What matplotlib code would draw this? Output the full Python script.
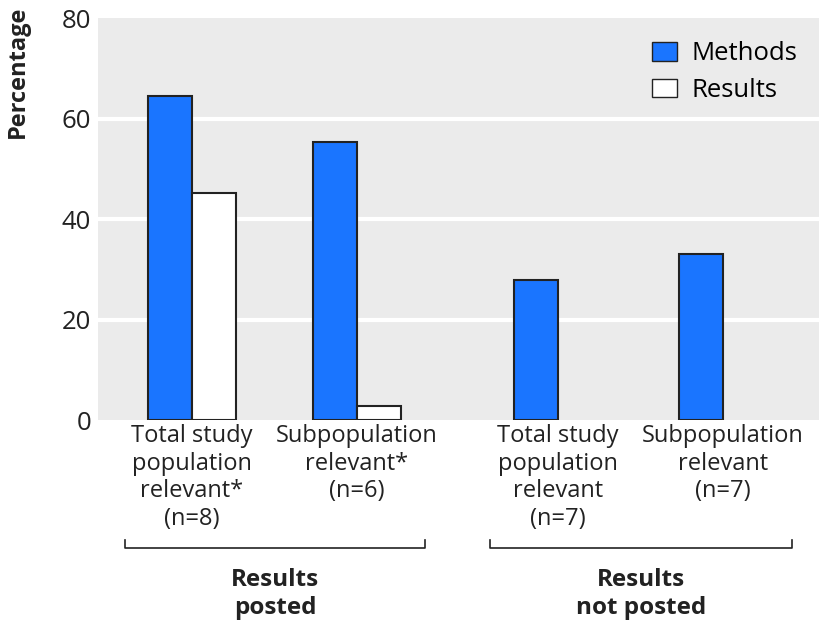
import numpy as np
import matplotlib.pyplot as plt
from matplotlib.patches import Patch

plt.rcParams['font.family'] = ['Open Sans', 'DejaVu Sans']

categories = ['Total study\npopulation\nrelevant*\n(n=8)', 'Subpopulation\nrelevant*\n(n=6)',
              'Total study\npopulation\nrelevant\n(n=7)', 'Subpopulation\nrelevant\n(n=7)']
methods = [64.5, 55.4, 27.9, 33.0]
results = [45.3, 2.8, 0, 0]
groups = ['Results\nposted', 'Results\nnot posted']

x = np.array([0, 1, 2.22, 3.22])
w = 0.267

fig = plt.figure(figsize=(8.2, 6.28), dpi=100)
ax = fig.add_axes([0.1195, 0.331, 0.8805, 0.64])
ax.set_facecolor('#ebebeb')
for y in [20, 40, 60]:
    ax.axhline(y, color='white', lw=3, zorder=0)

ax.bar(x - w/2, methods, w, color='#1a75ff', edgecolor='#222222', lw=1.5, zorder=2)
ax.bar(x[:2] + w/2, results[:2], w, color='white', edgecolor='#222222', lw=1.5, zorder=2)

ax.set_ylim(0, 80)
ax.set_xlim(-0.57, 3.81)
ax.set_yticks([0, 20, 40, 60, 80])
ax.tick_params(axis='y', length=0, labelsize=18.5, pad=5, labelcolor='#222222')
ax.set_xticks(x)
ax.set_xticklabels(categories, fontsize=17, linespacing=1.2, color='#222222')
ax.tick_params(axis='x', length=0, pad=3)
for s in ax.spines.values():
    s.set_visible(False)

fig.text(18/820, 1 - 72/628, 'Percentage', rotation=90, ha='center', va='center',
         fontsize=17, fontweight='bold', color='#222222')

# brackets under the two pairs
for (x0, x1), lab in zip([(125, 425), (490, 792)], groups):
    yb = 1 - 548/628
    yt = 1 - 540/628
    fig.add_artist(plt.Line2D([x0/820, x0/820, x1/820, x1/820], [yt, yb, yb, yt],
                              color='#222222', lw=1.2))
    fig.text((x0 + x1)/2/820, 1 - 594/628, lab, ha='center', va='center',
             fontsize=17.5, fontweight='bold', linespacing=1.2, color='#222222')

handles = [Patch(facecolor='#1a75ff', edgecolor='#222222', label='Methods'),
           Patch(facecolor='white', edgecolor='#222222', label='Results')]
ax.legend(handles=handles, loc='upper right', frameon=False, fontsize=18.5,
          handlelength=0.95, handleheight=0.75, handletextpad=0.55,
          bbox_to_anchor=(1.0, 1.0), labelspacing=0.45)

fig.savefig('out.png', dpi=100)
